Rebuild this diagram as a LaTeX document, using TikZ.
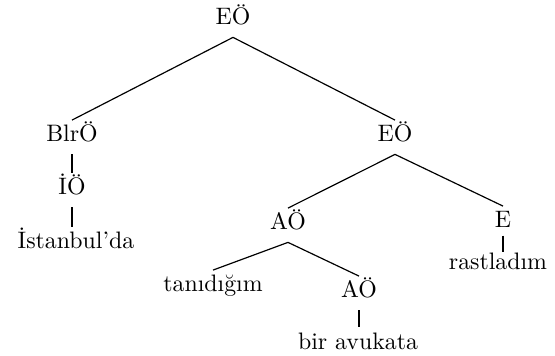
\documentclass[tikz,border=0pt]{standalone}
\usepackage{fontspec}
\begin{document}
\begin{tikzpicture}[x=0.42pt,y=-0.42pt,
  lbl/.style={anchor=base,inner sep=0pt,text height=9pt,text depth=5pt,font=\fontsize{10}{12}\selectfont},
  edge/.style={line width=0.5pt},
  stem/.style={line width=0.85pt}]
\useasboundingbox (0,0) rectangle (555,356);
\node[lbl] (eo1) at (233,25) {EÖ};
\node[lbl] (blr) at (72,142) {BlrÖ};
\node[lbl] (io) at (72,195) {İÖ};
\node[lbl] (ist) at (76,249) {İstanbul'da};
\node[lbl] (eo2) at (395,142) {EÖ};
\node[lbl] (ao1) at (288,230) {AÖ};
\node[lbl] (e) at (503,228) {E};
\node[lbl] (rast) at (498,270) {rastladım};
\node[lbl] (tan) at (213,292) {tanıdığım};
\node[lbl] (ao2) at (359,298) {AÖ};
\node[lbl] (bir) at (358,349) {bir avukata};
\draw[edge] (eo1.south) -- (blr.north);
\draw[edge] (eo1.south) -- (eo2.north);
\draw[stem] (blr.south) -- (io.north);
\draw[stem] (io.south) -- (io.south |- ist.north);
\draw[edge] (eo2.south) -- (ao1.north);
\draw[edge] (eo2.south) -- (e.north);
\draw[stem,shorten <=-2pt,shorten >=-1.8pt] (e.south) -- (e.south |- rast.north);
\draw[edge] (ao1.south) -- (tan.north);
\draw[edge] (ao1.south) -- (ao2.north);
\draw[stem] (ao2.south) -- (ao2.south |- bir.north);
\end{tikzpicture}
\end{document}
